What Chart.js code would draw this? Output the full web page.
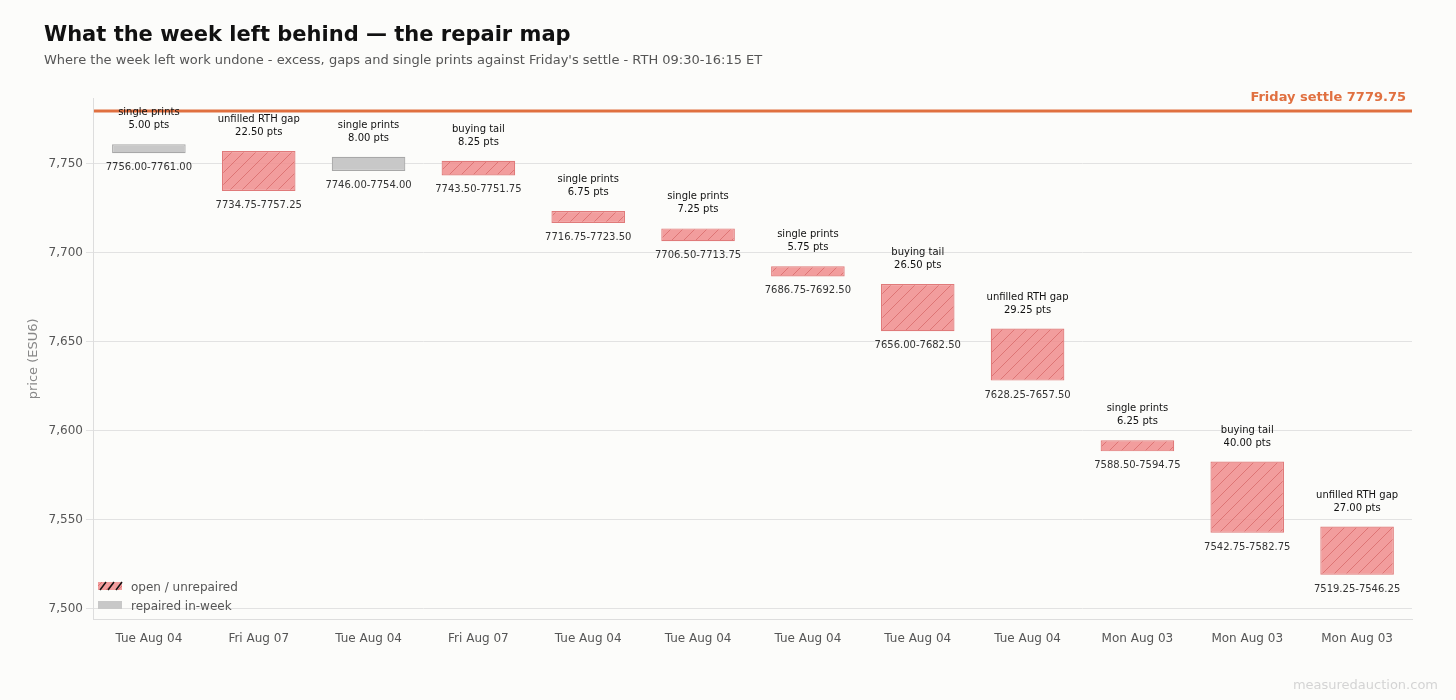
<!DOCTYPE html>
<html>
<head>
<meta charset="utf-8">
<script src="https://cdn.jsdelivr.net/npm/chart.js@4/dist/chart.umd.min.js"></script>
<style>
  html, body { margin: 0; padding: 0; background: #fcfcfa; }
  #wrap { position: relative; width: 1456px; height: 700px; }
</style>
</head>
<body>
<div id="wrap"><canvas id="repairChart" width="1456" height="700"></canvas></div>
<script>
var dates = ['Tue Aug 04', 'Fri Aug 07', 'Tue Aug 04', 'Fri Aug 07', 'Tue Aug 04', 'Tue Aug 04',
             'Tue Aug 04', 'Tue Aug 04', 'Tue Aug 04', 'Mon Aug 03', 'Mon Aug 03', 'Mon Aug 03'];
var kinds = ['single prints', 'unfilled RTH gap', 'single prints', 'buying tail', 'single prints', 'single prints',
             'single prints', 'buying tail', 'unfilled RTH gap', 'single prints', 'buying tail', 'unfilled RTH gap'];
var lows  = [7756.00, 7734.75, 7746.00, 7743.50, 7716.75, 7706.50, 7686.75, 7656.00, 7628.25, 7588.50, 7542.75, 7519.25];
var highs = [7761.00, 7757.25, 7754.00, 7751.75, 7723.50, 7713.75, 7692.50, 7682.50, 7657.50, 7594.75, 7582.75, 7546.25];
var repaired = [true, false, true, false, false, false, false, false, false, false, false, false];
var settle = 7779.75;
var yTicks = [7500, 7550, 7600, 7650, 7700, 7750];

var FONT = 'DejaVu Sans';

function makeHatch() {
    var c = document.createElement('canvas');
    c.width = 12; c.height = 12;
    var x = c.getContext('2d');
    x.fillStyle = 'rgba(240,140,140,0.85)';
    x.fillRect(0, 0, 12, 12);
    x.strokeStyle = 'rgba(205,85,85,0.55)';
    x.lineWidth = 1;
    x.beginPath();
    x.moveTo(0, 12); x.lineTo(12, 0);
    x.moveTo(-6, 6); x.lineTo(6, -6);
    x.moveTo(6, 18); x.lineTo(18, 6);
    x.stroke();
    return x.createPattern(c, 'repeat');
}

var hatch = makeHatch();
var fills = [], borders = [];
for (var i = 0; i < lows.length; i++) {
    fills.push(repaired[i] ? '#c8c8c8' : hatch);
    borders.push(repaired[i] ? '#a8a8a8' : '#e07a7a');
}

var extrasPlugin = {
    id: 'extras',
    beforeDraw: function (chart) {
        var ctx = chart.ctx;
        ctx.save();
        ctx.fillStyle = '#fcfcfa';
        ctx.fillRect(0, 0, chart.width, chart.height);
        ctx.restore();
    },
    afterDatasetsDraw: function (chart) {
        var ctx = chart.ctx, area = chart.chartArea;
        var y = chart.scales.y, meta = chart.getDatasetMeta(0);
        ctx.save();
        // titles
        ctx.fillStyle = '#111';
        ctx.font = 'bold 21px ' + FONT;
        ctx.textBaseline = 'alphabetic';
        ctx.textAlign = 'left';
        ctx.fillText('What the week left behind \u2014 the repair map', 44, 41);
        ctx.fillStyle = '#555';
        ctx.font = '13px ' + FONT;
        ctx.fillText("Where the week left work undone - excess, gaps and single prints against Friday's settle - RTH 09:30-16:15 ET", 44, 64);

        // settle line
        var sy = y.getPixelForValue(settle);
        ctx.strokeStyle = '#e07040';
        ctx.lineWidth = 3;
        ctx.beginPath();
        ctx.moveTo(area.left, sy); ctx.lineTo(area.right, sy);
        ctx.stroke();
        ctx.fillStyle = '#e07040';
        ctx.font = 'bold 13px ' + FONT;
        ctx.textAlign = 'right';
        ctx.fillText('Friday settle ' + settle.toFixed(2), area.right - 6, sy - 10);

        // bar annotations
        ctx.textAlign = 'center';
        for (var i = 0; i < meta.data.length; i++) {
            var bar = meta.data[i];
            var top = y.getPixelForValue(highs[i]), bot = y.getPixelForValue(lows[i]);
            ctx.fillStyle = '#111';
            ctx.font = '10px ' + FONT;
            ctx.fillText(kinds[i], bar.x, top - 29);
            ctx.fillText((highs[i] - lows[i]).toFixed(2) + ' pts', bar.x, top - 16);
            ctx.fillStyle = '#333';
            ctx.font = '10px ' + FONT;
            ctx.fillText(lows[i].toFixed(2) + '-' + highs[i].toFixed(2), bar.x, bot + 17);
        }

        // legend
        ctx.textAlign = 'left';
        ctx.fillStyle = hatch;
        ctx.fillRect(98, 582, 24, 8);
        ctx.strokeStyle = '#111';
        ctx.lineWidth = 1.5;
        ctx.beginPath();
        for (var k = 0; k < 3; k++) {
            ctx.moveTo(100 + k * 8, 590); ctx.lineTo(106 + k * 8, 582);
        }
        ctx.stroke();
        ctx.fillStyle = '#c8c8c8';
        ctx.fillRect(98, 601, 24, 8);
        ctx.fillStyle = '#555';
        ctx.font = '12px ' + FONT;
        ctx.fillText('open / unrepaired', 131, 591);
        ctx.fillText('repaired in-week', 131, 610);

        // watermark
        ctx.fillStyle = '#d4d4d4';
        ctx.font = '13px ' + FONT;
        ctx.textAlign = 'right';
        ctx.fillText('measuredauction.com', 1438, 689);
        ctx.restore();
    }
};

var data = [];
for (var j = 0; j < lows.length; j++) data.push([lows[j], highs[j]]);

new Chart(document.getElementById('repairChart'), {
    type: 'bar',
    data: {
        labels: dates.map(function (d, i) { return i; }),
        datasets: [{
            data: data,
            backgroundColor: fills,
            borderColor: borders,
            borderWidth: 1.2,
            borderSkipped: false,
            barPercentage: 0.67,
            categoryPercentage: 1
        }]
    },
    options: {
        responsive: false,
        animation: false,
        devicePixelRatio: 1,
        layout: { padding: { left: 22, right: 44, top: 98, bottom: 50 } },
        plugins: { legend: { display: false }, tooltip: { enabled: false } },
        scales: {
            x: {
                grid: { display: false },
                border: { color: '#ddd' },
                ticks: {
                    color: '#555', font: { family: FONT, size: 12 }, padding: 4,
                    callback: function (v, i) { return dates[i]; }
                }
            },
            y: {
                min: 7494, max: 7787,
                afterBuildTicks: function (s) { s.ticks = yTicks.map(function (v) { return { value: v }; }); },
                grid: { color: '#e2e2e2' },
                border: { color: '#ddd' },
                ticks: { color: '#555', font: { family: FONT, size: 12 } },
                title: { display: true, text: 'price (ESU6)', color: '#888', font: { family: FONT, size: 13 } }
            }
        }
    },
    plugins: [extrasPlugin]
});
</script>
</body>
</html>
